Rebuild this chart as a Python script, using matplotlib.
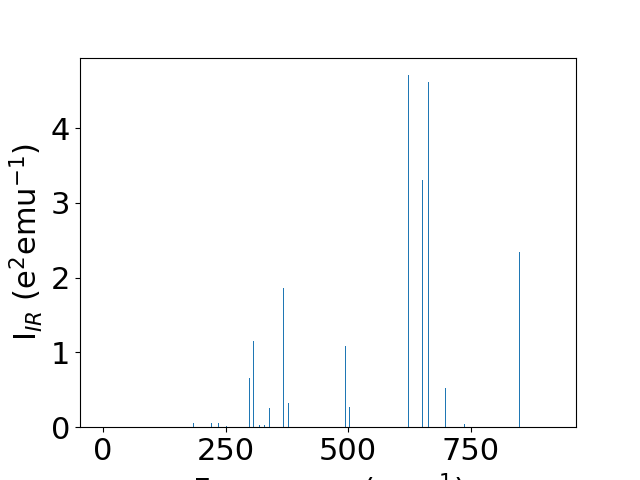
import numpy as np
import matplotlib
matplotlib.use("Agg")
import matplotlib.pyplot as plt

# IR frequencies (cm^-1) and intensities
freq = [183.7, 220.5, 234.8, 251.1, 298.1, 306.2, 318.5, 328.7, 338.9,
        367.5, 377.7, 494.1, 502.3, 622.7, 651.3, 663.5, 698.2, 737.0, 849.3]
inten = [0.057, 0.057, 0.057, 0.015, 0.66, 1.15, 0.03, 0.03, 0.26,
         1.86, 0.32, 1.09, 0.27, 4.71, 3.31, 4.62, 0.52, 0.04, 2.34]

plt.rcParams['font.size'] = 22

fig, ax = plt.subplots(figsize=(6.4, 4.8), dpi=100)
ax.bar(freq, inten, width=2, color='C0')
ax.set_xlim(-47, 965)
ax.set_xticks([0, 250, 500, 750])
ax.set_xlabel(r"Frequency (cm$^{-1}$)")
ax.set_ylabel(r"I$_{IR}$ (e$^2$emu$^{-1}$)")
plt.savefig("out.png")
plt.close()
